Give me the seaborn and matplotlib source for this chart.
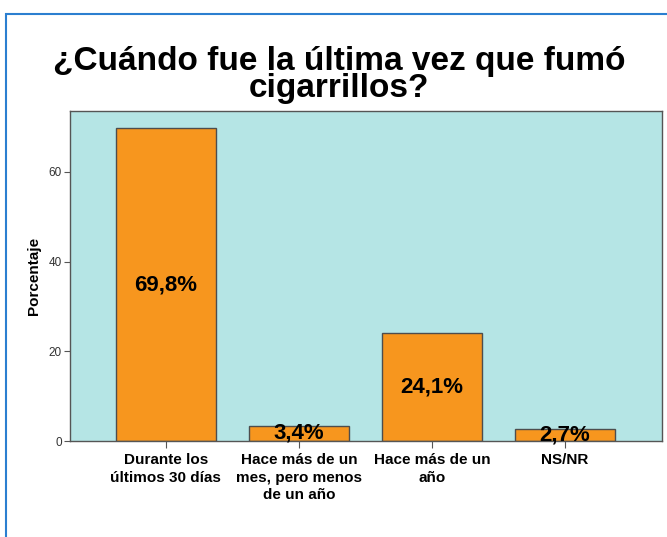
import pandas as pd
import numpy as np
import matplotlib.pyplot as plt
import matplotlib.patches as mpatches
import seaborn as sns

# DATA
categorias = ["Durante los\núltimos 30 días",
              "Hace más de un\nmes, pero menos\nde un año",
              "Hace más de un\naño",
              "NS/NR"]
porcentajes = [69.8, 3.4, 24.1, 2.7]
etiquetas = ["69,8%", "3,4%", "24,1%", "2,7%"]

df = pd.DataFrame({"cat": categorias, "pct": porcentajes})

sns.set_style("white")
plt.rcParams['font.family'] = ['Liberation Sans', 'DejaVu Sans']
plt.rcParams['text.color'] = 'black'

fig = plt.figure(figsize=(6.67, 5.37), dpi=100)
ax = fig.add_axes([70 / 667, 1 - 441 / 537, 592 / 667, 330 / 537])

# blue frame around the chart
fig.patches.append(mpatches.Rectangle((6 / 667, -0.01), 1.0, 1 - 14 / 537 + 0.01,
                                      transform=fig.transFigure, fill=False,
                                      edgecolor="#2B7FD0", linewidth=1.5))

sns.barplot(data=df, x="cat", y="pct", ax=ax, color="#F7961E",
            saturation=1, width=0.75, edgecolor="#4D4D4D", linewidth=1)

ax.set_facecolor("#B5E5E5")
ax.set_xlim(-0.72, 3.73)
ax.set_ylim(0, 73.6)
ax.set_yticks([0, 20, 40, 60])
for s in ax.spines.values():
    s.set_color("#555555")
    s.set_linewidth(1)

for i, (v, t) in enumerate(zip(porcentajes, etiquetas)):
    ax.text(i, v / 2, t, ha="center", va="center", fontsize=16,
            fontweight="bold", color="black")

ax.tick_params(axis="y", length=4, color="#555555", labelsize=8.5,
               labelcolor="#333333", left=True, pad=2)
ax.tick_params(axis="x", length=5, color="#555555", bottom=True, pad=4,
               labelcolor="black")
plt.setp(ax.get_xticklabels(), fontsize=11, fontweight="bold",
         linespacing=1.3, va="top")
ax.set_xlabel("")
ax.set_ylabel("Porcentaje", fontsize=11, fontweight="bold", labelpad=5,
              color="black")

fig.text(0.508, 1 - 75 / 537, "¿Cuándo fue la última vez que fumó\ncigarrillos?",
         ha="center", va="center", fontsize=24, fontweight="bold",
         color="black", linespacing=0.86)

plt.savefig("out.png", dpi=100)
